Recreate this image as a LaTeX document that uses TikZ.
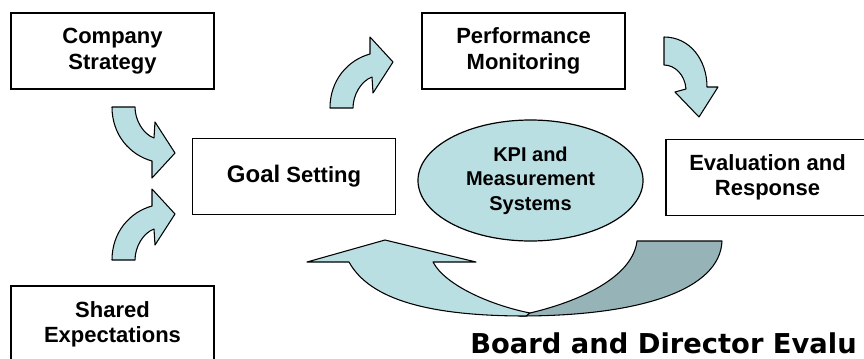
\documentclass[tikz,border=0pt]{standalone}
\usepackage{fontspec}
\setmainfont{Liberation Sans}
\newfontfamily\titlefont{DejaVu Sans}
\usetikzlibrary{shapes.geometric}
\definecolor{lightteal}{RGB}{186,223,227}
\definecolor{darkteal}{RGB}{150,180,183}
\tikzset{
  box/.style={draw=black, line width=1.1pt, fill=white, minimum width=152.25pt, minimum height=57pt, align=center, inner sep=0pt, font=\bfseries\fontsize{16.5}{19}\selectfont},
  kpi/.style={draw=black, line width=0.9pt, fill=lightteal, ellipse, minimum width=168.75pt, minimum height=90.75pt, align=center, inner sep=0pt, font=\bfseries\fontsize{15}{18.5}\selectfont},
  blockarrow/.style={draw=black, line width=0.8pt, fill=lightteal, line join=round},
  backarrow/.style={draw=black, line width=0.8pt, fill=darkteal, line join=round},
  titletext/.style={anchor=base west, inner sep=0pt, font=\titlefont\bfseries\fontsize{20.5}{24}\selectfont}
}
\begin{document}
\begin{tikzpicture}[x=0.75pt,y=-0.75pt]
\useasboundingbox (0,0) rectangle (864,358);
\clip (0,0) rectangle (864,358);

% boxes
\node[box] (strategy) at (112.5,51) {Company\\Strategy};
\node[box] (goal) at (294,176.5) {{\fontsize{18}{19}\selectfont Goal} Setting};
\node[box] (perf) at (523.5,51) {Performance\\Monitoring};
\node[box] (eval) at (767.5,177.5) {Evaluation and\\Response};
\node[box] (shared) at (112.5,324) {Shared\\Expectations};
\node[kpi] (kpi) at (530.5,180.5) {KPI and\\Measurement\\Systems};

% small curved arrows
\filldraw[blockarrow] (112,107) .. controls (112,135) and (130,155) .. (152,161) -- (152,178) -- (175,153) -- (155,122) -- (154,138) .. controls (143,134) and (135,120) .. (135,107) -- cycle;
\filldraw[blockarrow] (112,260) .. controls (112,232) and (130,212) .. (152,206) -- (152,189) -- (175,214) -- (155,245) -- (154,229) .. controls (143,233) and (135,247) .. (135,260) -- cycle;
\filldraw[blockarrow] (330,108) .. controls (330,80) and (348,60) .. (370,54) -- (370,37) -- (393,62) -- (373,93) -- (372,77) .. controls (361,81) and (353,95) .. (353,108) -- cycle;
\filldraw[blockarrow] (664,37) .. controls (690,37) and (707,60) .. (707,87) -- (718,87) -- (699,117) -- (675,92) -- (686,89) .. controls (685,75) and (675,65) .. (664,65) -- cycle;

% big U-turn arrow
\filldraw[backarrow] (637,241) -- (722,241) .. controls (720,290) and (640,316) .. (520,316) -- (530,313) .. controls (585,300) and (633,275) .. (637,241) -- cycle;
\filldraw[blockarrow] (385,240) -- (476,262) -- (433,262) .. controls (445,285) and (490,305) .. (530,313) -- (526,316) .. controls (430,316) and (370,300) .. (349,262) -- (307,262) -- cycle;

% title (as far as the picture prints it)
\node[titletext] (title) at (470,353) {Board and Director Evalu};
\end{tikzpicture}
\end{document}
